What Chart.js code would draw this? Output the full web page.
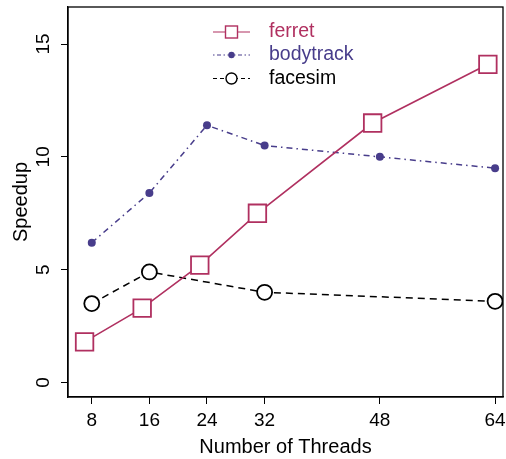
<!DOCTYPE html>
<html>
<head>
<meta charset="utf-8">
<title>Speedup</title>
<script src="https://cdn.jsdelivr.net/npm/chart.js@4.4.1/dist/chart.umd.min.js"></script>
<style>
  html, body { margin: 0; padding: 0; background: #fff; }
  #myChart { display: block; }
</style>
</head>
<body>
<canvas id="myChart" width="506" height="459" style="width:506px;height:459px"></canvas>
<script>
/* global Chart */

// values
const threads = [8, 16, 24, 32, 48, 64];
const ferretX = [7, 15, 23, 31, 47, 63]; // ferret is drawn one step left of the ticks
const ferret = [1.8, 3.3, 5.2, 7.5, 11.5, 14.1];
const bodytrack = [6.2, 8.4, 11.4, 10.5, 10.0, 9.5];
const facesimX = [8, 16, 32, 64];
const facesim = [3.5, 4.9, 4.0, 3.6];
const xTicks = [8, 16, 24, 32, 48, 64];
const yTicks = [0, 5, 10, 15];

const FONT = "'Liberation Sans', Arial, Helvetica, sans-serif";
Chart.defaults.font.family = FONT;
Chart.defaults.color = '#000';

function toPoints(xs, ys) {
  return xs.map((x, i) => ({ x: x, y: ys[i] }));
}

// R style box around the plot + rotated y tick labels
const boxPlugin = {
  id: 'box',
  afterDraw(chart) {
    const ctx = chart.ctx;
    const a = chart.chartArea;
    ctx.save();
    ctx.strokeStyle = '#000';
    ctx.lineWidth = 1.3;
    ctx.strokeRect(a.left, a.top, a.right - a.left, a.bottom - a.top);

    const ys = chart.scales.y;
    ctx.fillStyle = '#000';
    ctx.font = '19px ' + FONT;
    ctx.textAlign = 'center';
    ctx.textBaseline = 'middle';
    for (const v of yTicks) {
      ctx.save();
      ctx.translate(44, ys.getPixelForValue(v));
      ctx.rotate(-Math.PI / 2);
      ctx.fillText(String(v), 0, 0);
      ctx.restore();
    }
    ctx.restore();
  }
};

// legend: line with the marker in the middle, text coloured like the series
const legendPlugin = {
  id: 'rlegend',
  afterDraw(chart) {
    const ctx = chart.ctx;
    const x0 = 213, x1 = 250, xm = 231.5, xt = 269;
    const rows = [32, 55, 78.5];
    ctx.save();
    ctx.font = '19.5px ' + FONT;
    ctx.textBaseline = 'middle';
    chart.data.datasets.forEach((ds, i) => {
      const y = rows[i];
      ctx.strokeStyle = ds.borderColor;
      ctx.lineWidth = 1.2;
      ctx.setLineDash(ds.legendDash || []);
      ctx.beginPath();
      ctx.moveTo(x0, y);
      ctx.lineTo(x1, y);
      ctx.stroke();
      ctx.setLineDash([]);
      ctx.lineWidth = 1.4;
      if (ds.pointStyle === 'rect') {
        ctx.fillStyle = '#fff';
        ctx.fillRect(xm - 6, y - 6, 12, 12);
        ctx.strokeRect(xm - 6, y - 6, 12, 12);
      } else if (ds.pointRadius > 5) {
        ctx.fillStyle = '#fff';
        ctx.beginPath();
        ctx.arc(xm, y, 5.5, 0, Math.PI * 2);
        ctx.fill();
        ctx.stroke();
      } else {
        ctx.fillStyle = ds.borderColor;
        ctx.beginPath();
        ctx.arc(xm, y, 3.2, 0, Math.PI * 2);
        ctx.fill();
      }
      ctx.fillStyle = ds.borderColor;
      ctx.textAlign = 'left';
      ctx.fillText(ds.label, xt, y);
    });
    ctx.restore();
  }
};

const ctx = document.getElementById('myChart').getContext('2d');
const myChart = new Chart(ctx, {
  type: 'line',
  data: {
    datasets: [{
      label: 'ferret',
      data: toPoints(ferretX, ferret),
      borderColor: '#B03060',
      borderWidth: 1.6,
      pointStyle: 'rect',
      pointRadius: 12.4,
      pointBorderWidth: 1.8,
      pointBackgroundColor: '#fff',
      pointBorderColor: '#B03060'
    }, {
      label: 'bodytrack',
      data: toPoints(threads, bodytrack),
      borderColor: '#483D8B',
      borderWidth: 1.5,
      borderDash: [6, 4, 1.5, 4],
      legendDash: [1.5, 2.5, 4, 2.5],
      pointStyle: 'circle',
      pointRadius: 4,
      pointBorderWidth: 0,
      pointBackgroundColor: '#483D8B',
      pointBorderColor: '#483D8B'
    }, {
      label: 'facesim',
      data: toPoints(facesimX, facesim),
      borderColor: '#000',
      borderWidth: 1.5,
      borderDash: [7, 5],
      legendDash: [4, 3],
      pointStyle: 'circle',
      pointRadius: 7.5,
      pointBorderWidth: 1.8,
      pointBackgroundColor: '#fff',
      pointBorderColor: '#000'
    }]
  },
  options: {
    responsive: false,
    animation: false,
    layout: { autoPadding: false, padding: { top: 7, right: 3, left: 0, bottom: 0 } },
    plugins: {
      legend: { display: false },
      tooltip: { enabled: false }
    },
    scales: {
      x: {
        type: 'linear',
        min: 4.7,
        max: 65.1,
        afterBuildTicks: (scale) => { scale.ticks = xTicks.map(v => ({ value: v })); },
        afterFit: (scale) => {
          scale.height = 62;
          scale.paddingLeft = 0;
          scale.paddingRight = 0;
        },
        ticks: { font: { size: 19 }, color: '#000', padding: 5, maxRotation: 0 },
        grid: { drawOnChartArea: false, drawTicks: true, tickLength: 7, color: '#000', lineWidth: 1 },
        border: { display: true, color: '#000', width: 1.3 },
        title: {
          display: true,
          text: 'Number of Threads',
          font: { size: 20 },
          color: '#000',
          padding: { top: 0, bottom: 0 }
        }
      },
      y: {
        min: -0.64,
        max: 16.64,
        afterBuildTicks: (scale) => { scale.ticks = yTicks.map(v => ({ value: v })); },
        afterFit: (scale) => {
          scale.width = 68;
          scale.paddingTop = 0;
          scale.paddingBottom = 0;
        },
        ticks: { display: false },
        grid: { drawOnChartArea: false, drawTicks: true, tickLength: 7, color: '#000', lineWidth: 1 },
        border: { display: true, color: '#000', width: 1.3 },
        title: {
          display: true,
          text: 'Speedup',
          font: { size: 20 },
          color: '#000',
          padding: { top: 9, bottom: 0 }
        }
      }
    }
  },
  plugins: [boxPlugin, legendPlugin]
});
</script>
</body>
</html>
